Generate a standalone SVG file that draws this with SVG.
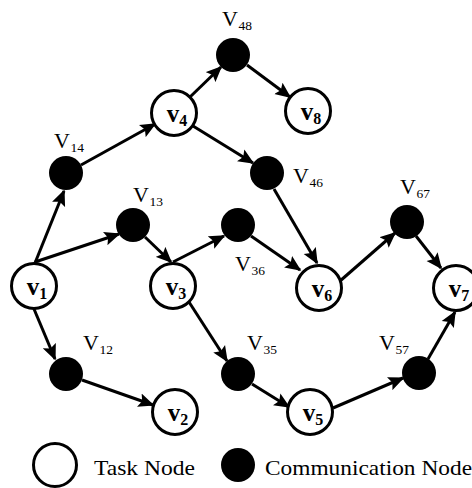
<svg xmlns="http://www.w3.org/2000/svg" width="472" height="488" viewBox="0 0 472 488">
  <style>
    .task { fill: #fff; stroke: #000; stroke-width: 3; }
    .comm { fill: #000; }
    .edge { fill: none; stroke: #000; stroke-width: 3; marker-end: url(#arrow); }
    .tl { font-family: "Liberation Serif", "Times New Roman", serif; font-weight: bold; font-size: 25px; fill: #000; text-anchor: middle; }
    .tl tspan.s { font-size: 16px; }
    .cl { font-family: "Liberation Serif", "Times New Roman", serif; font-size: 22px; fill: #000; }
    .cl tspan.s { font-size: 13.5px; }
    .lg { font-family: "Liberation Serif", "Times New Roman", serif; font-size: 22px; fill: #000; }
  </style>
  <defs>
    <marker id="arrow" markerUnits="userSpaceOnUse" markerWidth="17" markerHeight="15" viewBox="0 -7.5 17 15" refX="14.5" refY="0" orient="auto">
      <path d="M0,-7 L16,0 L0,7 L3,0 z" fill="#000"/>
    </marker>
  </defs>

  <!-- connectors -->
  <g id="edges">
    <line class="edge" x1="35" y1="263" x2="64" y2="191"/>
    <line class="edge" x1="81" y1="165" x2="155" y2="124"/>
    <line class="edge" x1="190" y1="97" x2="221" y2="67"/>
    <line class="edge" x1="247" y1="65" x2="290" y2="97"/>
    <line class="edge" x1="193" y1="126" x2="253" y2="163"/>
    <line class="edge" x1="274" y1="189" x2="317" y2="263"/>
    <line class="edge" x1="35" y1="262" x2="119" y2="234"/>
    <line class="edge" x1="145" y1="237" x2="171" y2="262"/>
    <line class="edge" x1="173" y1="262" x2="224" y2="236"/>
    <line class="edge" x1="251" y1="236" x2="300" y2="270"/>
    <line class="edge" x1="340" y1="281" x2="395" y2="233"/>
    <line class="edge" x1="416" y1="236" x2="441" y2="268"/>
    <line class="edge" x1="34" y1="309" x2="55" y2="359"/>
    <line class="edge" x1="82" y1="380" x2="153" y2="405"/>
    <line class="edge" x1="189" y1="302" x2="227" y2="361"/>
    <line class="edge" x1="252" y1="384" x2="289" y2="407"/>
    <line class="edge" x1="333" y1="408" x2="403" y2="378"/>
    <line class="edge" x1="428" y1="359" x2="455" y2="312"/>
  </g>

  <!-- task nodes -->
  <g id="v1"><circle class="task" cx="34" cy="286" r="22.5"/><text class="tl" x="37" y="295">v<tspan class="s" dy="4">1</tspan></text></g>
  <g id="v2"><circle class="task" cx="175" cy="412" r="22.5"/><text class="tl" x="178" y="421">v<tspan class="s" dy="4">2</tspan></text></g>
  <g id="v3"><circle class="task" cx="173" cy="286" r="22.5"/><text class="tl" x="176" y="295">v<tspan class="s" dy="4">3</tspan></text></g>
  <g id="v4"><circle class="task" cx="174" cy="113" r="22.5"/><text class="tl" x="177" y="122">v<tspan class="s" dy="4">4</tspan></text></g>
  <g id="v5"><circle class="task" cx="310" cy="412" r="22.5"/><text class="tl" x="313" y="421">v<tspan class="s" dy="4">5</tspan></text></g>
  <g id="v6"><circle class="task" cx="319" cy="288" r="22.5"/><text class="tl" x="322" y="297">v<tspan class="s" dy="4">6</tspan></text></g>
  <g id="v7"><circle class="task" cx="456" cy="288" r="22.5"/><text class="tl" x="459" y="297">v<tspan class="s" dy="4">7</tspan></text></g>
  <g id="v8"><circle class="task" cx="308" cy="111" r="22.5"/><text class="tl" x="311" y="120">v<tspan class="s" dy="4">8</tspan></text></g>

  <!-- communication nodes -->
  <g id="V14"><circle class="comm" cx="66" cy="173" r="17"/><text class="cl" x="54" y="148">V<tspan class="s" dx="0.5" dy="4">14</tspan></text></g>
  <g id="V48"><circle class="comm" cx="233" cy="55" r="17"/><text class="cl" x="222" y="26">V<tspan class="s" dx="0.5" dy="4">48</tspan></text></g>
  <g id="V13"><circle class="comm" cx="133" cy="225" r="17"/><text class="cl" x="133" y="202">V<tspan class="s" dx="0.5" dy="4">13</tspan></text></g>
  <g id="V46"><circle class="comm" cx="267" cy="173" r="17"/><text class="cl" x="293" y="183">V<tspan class="s" dx="0.5" dy="4">46</tspan></text></g>
  <g id="V36"><circle class="comm" cx="238" cy="225" r="17"/><text class="cl" x="235" y="271">V<tspan class="s" dx="0.5" dy="4">36</tspan></text></g>
  <g id="V67"><circle class="comm" cx="407" cy="222" r="17"/><text class="cl" x="400" y="194">V<tspan class="s" dx="0.5" dy="4">67</tspan></text></g>
  <g id="V12"><circle class="comm" cx="66" cy="374" r="17"/><text class="cl" x="83" y="350">V<tspan class="s" dx="0.5" dy="4">12</tspan></text></g>
  <g id="V35"><circle class="comm" cx="238" cy="374" r="17"/><text class="cl" x="247" y="350">V<tspan class="s" dx="0.5" dy="4">35</tspan></text></g>
  <g id="V57"><circle class="comm" cx="419" cy="373" r="17"/><text class="cl" x="379" y="350">V<tspan class="s" dx="0.5" dy="4">57</tspan></text></g>

  <!-- legend -->
  <g id="legend-task"><circle class="task" cx="55" cy="465" r="21.5"/><text class="lg" x="94" y="475" textLength="101" lengthAdjust="spacingAndGlyphs">Task Node</text></g>
  <g id="legend-comm"><circle class="comm" cx="238" cy="465" r="17"/><text class="lg" x="265" y="475" textLength="207" lengthAdjust="spacingAndGlyphs">Communication Node</text></g>
</svg>
